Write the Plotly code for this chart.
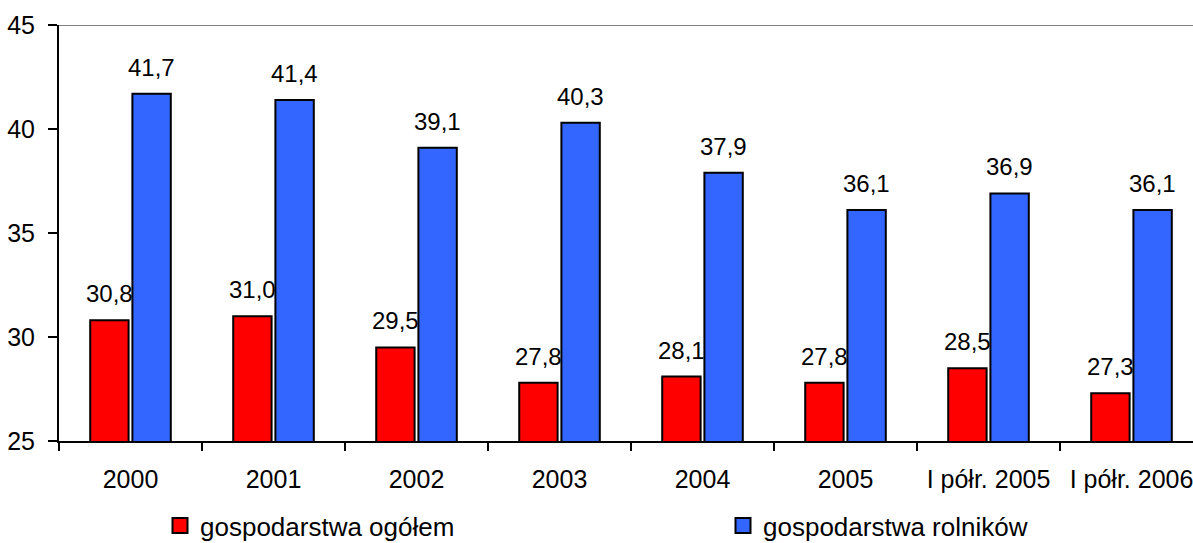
import plotly.graph_objects as go

categories = ["2000", "2001", "2002", "2003", "2004", "2005", "I półr. 2005", "I półr. 2006"]
ogolem = [30.8, 31.0, 29.5, 27.8, 28.1, 27.8, 28.5, 27.3]
rolnikow = [41.7, 41.4, 39.1, 40.3, 37.9, 36.1, 36.9, 36.1]
series_names = ["gospodarstwa ogółem", "gospodarstwa rolników"]
colors = ["#FF0000", "#3366FF"]

FONT = "Liberation Sans, Arial, sans-serif"

fig = go.Figure()
for name, vals, col in zip(series_names, [ogolem, rolnikow], colors):
    fig.add_trace(go.Bar(
        x=categories, y=vals, name=name, showlegend=False,
        marker=dict(color=col, line=dict(color="black", width=2)),
    ))
    # legend proxy with a larger square symbol
    fig.add_trace(go.Scatter(
        x=[None], y=[None], mode="markers", name=name,
        marker=dict(symbol="square", size=15, color=col, line=dict(color="black", width=2)),
    ))

slot_px = 42.5
for vals, sign in [(ogolem, -1), (rolnikow, 1)]:
    for i, v in enumerate(vals):
        fig.add_annotation(
            x=i, y=v, text=f"{v:.1f}".replace(".", ","), showarrow=False,
            xshift=sign * slot_px / 2, yshift=11, yanchor="bottom",
            font=dict(family=FONT, size=24, color="black"),
        )

fig.add_shape(type="line", xref="paper", yref="y", x0=0, x1=1, y0=45, y1=45,
              line=dict(color="#808080", width=2))

fig.update_layout(
    width=1193, height=543, autosize=False,
    margin=dict(l=59, r=0, t=25, b=102),
    paper_bgcolor="white", plot_bgcolor="white",
    barmode="group", bargap=0.41, bargroupgap=0.09,
    font=dict(family=FONT, size=25, color="black"),
    xaxis=dict(
        type="category", range=[-0.5, 7.43], tickson="boundaries",
        ticks="outside", ticklen=8, tickwidth=2, tickcolor="black",
        showline=True, linecolor="black", linewidth=2, showgrid=False,
        tickfont=dict(family=FONT, size=25), ticklabelstandoff=15,
    ),
    yaxis=dict(
        range=[25, 45], dtick=5, tick0=25,
        ticks="outside", ticklen=9, tickwidth=2, tickcolor="black",
        showline=True, linecolor="black", linewidth=2, showgrid=False, zeroline=False,
        tickfont=dict(family=FONT, size=25), ticklabelstandoff=8,
    ),
    legend=dict(
        orientation="h", xref="container", yref="container",
        x=160 / 1193, y=0.032, xanchor="left", yanchor="middle",
        entrywidth=518, entrywidthmode="pixels",
        font=dict(family=FONT, size=26), bgcolor="rgba(0,0,0,0)",
        itemsizing="trace",
    ),
)

fig.write_html("out.html", config={"displayModeBar": False},
               post_script="document.body.style.margin='0';")
